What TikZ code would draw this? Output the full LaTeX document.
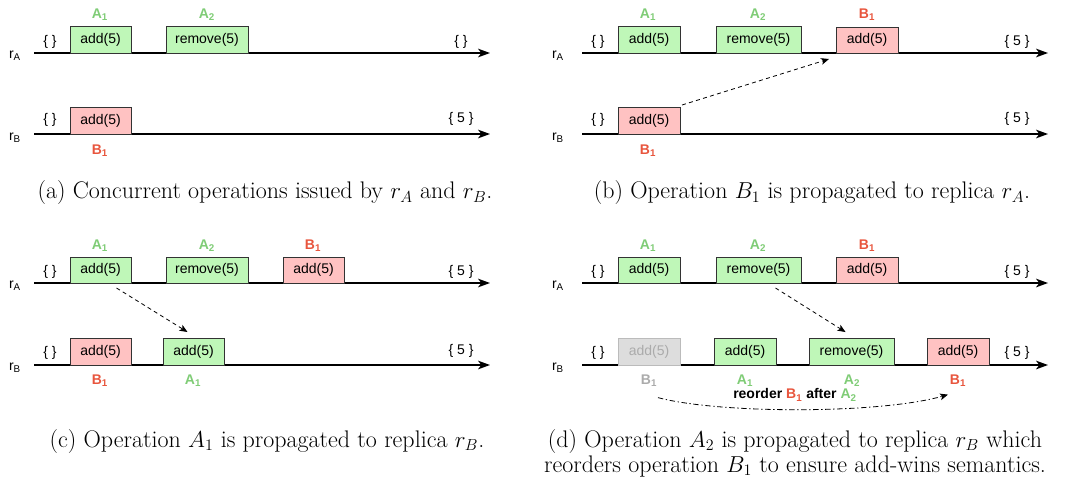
\documentclass[tikz,border=0pt]{standalone}
\usepackage{fontspec}
\newfontfamily\hv{Liberation Sans}
\usetikzlibrary{arrows.meta}
\definecolor{opgreen}{HTML}{BFF7B8}
\definecolor{opred}{HTML}{FFC2C2}
\definecolor{lblgreen}{HTML}{7FCC76}
\definecolor{lblred}{HTML}{E8553D}
\definecolor{opgray}{HTML}{DDDDDD}
\definecolor{graytext}{HTML}{ABABAB}
\definecolor{grayline}{HTML}{BBBBBB}
\newcommand\opbox[7]{\node[#2, minimum width={(#4-#3)*0.75pt}, minimum height={(#6-#5)*0.75pt}] (#1) at ({(#3+#4)/2},{(#5+#6)/2}) {#7};}
\tikzset{
  hvf/.style={font=\hv\fontsize{10.5}{12}\selectfont},
  op/.style={hvf, draw=black!80, line width=0.75pt, inner sep=0pt, outer sep=0pt},
  gop/.style={op, fill=opgreen},
  rop/.style={op, fill=opred},
  xop/.style={op, fill=opgray, draw=grayline, text=graytext},
  tl/.style={line width=1pt, -{Stealth[length=9pt,width=6.5pt,inset=2.5pt]}},
  prop/.style={line width=0.6pt, dash pattern=on 3pt off 2.5pt, -{Stealth[length=6pt,width=5pt,inset=1.5pt]}},
  reord/.style={line width=0.6pt, dash pattern=on 4pt off 2pt on 1pt off 2pt, -{Stealth[length=6pt,width=5pt,inset=1.5pt]}},
  stt/.style={hvf},
  rep/.style={hvf},
  glab/.style={font=\hv\bfseries\fontsize{10.5}{12}\selectfont, text=lblgreen},
  rlab/.style={font=\hv\bfseries\fontsize{10.5}{12}\selectfont, text=lblred},
  xlab/.style={font=\hv\bfseries\fontsize{10.5}{12}\selectfont, text=graytext},
  capt/.style={font=\fontsize{18}{18.75}\selectfont, align=center, inner sep=0pt},
}
\begin{document}
\begin{tikzpicture}[x=0.75pt, y=-0.75pt]
\useasboundingbox (0,0) rectangle (1069,487);
% ---------------- panel (a)
\node[rep] (a-rA) at (15,56) {r\textsubscript{A}};
\node[rep] (a-rB) at (15,138) {r\textsubscript{B}};
\coordinate (a-As) at (34,53); \coordinate (a-Ae) at (490,53);
\coordinate (a-Bs) at (34,134); \coordinate (a-Be) at (490,134);
\draw[tl] (a-As) -- (a-Ae);
\draw[tl] (a-Bs) -- (a-Be);
\opbox{a-A1}{gop}{70}{131}{26}{53}{add(5)}
\opbox{a-A2}{gop}{166}{248}{26}{53}{remove(5)}
\opbox{a-B1}{rop}{70}{131}{107}{134}{add(5)}
\node[glab] (a-lA1) at (100,15) {A\textsubscript{1}};
\node[glab] (a-lA2) at (207,15) {A\textsubscript{2}};
\node[rlab] (a-lB1) at (100,151) {B\textsubscript{1}};
\node[stt] (a-s1) at (50,42) {\{ \}};
\node[stt] (a-s2) at (461,42) {\{ \}};
\node[stt] (a-s3) at (50,120) {\{ \}};
\node[stt] (a-s4) at (461,119) {\{ 5 \}};
\node[capt] (a-cap) at (265,193) {(a) Concurrent operations issued by $r_A$ and $r_B$.};
% ---------------- panel (b)
\node[rep] (b-rA) at (558,56) {r\textsubscript{A}};
\node[rep] (b-rB) at (558,138) {r\textsubscript{B}};
\coordinate (b-As) at (582,53); \coordinate (b-Ae) at (1048,53);
\coordinate (b-Bs) at (582,134); \coordinate (b-Be) at (1048,134);
\draw[tl] (b-As) -- (b-Ae);
\draw[tl] (b-Bs) -- (b-Be);
\opbox{b-A1}{gop}{618}{680}{26}{53}{add(5)}
\opbox{b-A2}{gop}{716}{801}{26}{53}{remove(5)}
\opbox{b-rB1}{rop}{836}{898}{27}{53}{add(5)}
\opbox{b-B1}{rop}{618}{680}{107}{134}{add(5)}
\node[glab] (b-lA1) at (648,15) {A\textsubscript{1}};
\node[glab] (b-lA2) at (758,15) {A\textsubscript{2}};
\node[rlab] (b-lrB1) at (867,15) {B\textsubscript{1}};
\node[rlab] (b-lB1) at (648,151) {B\textsubscript{1}};
\node[stt] (b-s1) at (598,42) {\{ \}};
\node[stt] (b-s2) at (1017,42) {\{ 5 \}};
\node[stt] (b-s3) at (598,120) {\{ \}};
\node[stt] (b-s4) at (1017,119) {\{ 5 \}};
\draw[prop] ([shift={(2,-2)}]b-B1.north east) -- ([shift={(-7,6)}]b-rB1.south west);
\node[capt] (b-cap) at (812,193) {(b) Operation $B_1$ is propagated to replica $r_A$.};
% ---------------- panel (c)
\node[rep] (c-rA) at (15,286) {r\textsubscript{A}};
\node[rep] (c-rB) at (15,368) {r\textsubscript{B}};
\coordinate (c-As) at (34,283); \coordinate (c-Ae) at (490,283);
\coordinate (c-Bs) at (34,365); \coordinate (c-Be) at (490,365);
\draw[tl] (c-As) -- (c-Ae);
\draw[tl] (c-Bs) -- (c-Be);
\opbox{c-A1}{gop}{70}{131}{257}{283}{add(5)}
\opbox{c-A2}{gop}{166}{248}{257}{283}{remove(5)}
\opbox{c-rB1}{rop}{283}{344}{257}{283}{add(5)}
\opbox{c-B1}{rop}{70}{131}{338}{365}{add(5)}
\opbox{c-bA1}{gop}{163}{224}{338}{365}{add(5)}
\node[glab] (c-lA1) at (100,246) {A\textsubscript{1}};
\node[glab] (c-lA2) at (207,246) {A\textsubscript{2}};
\node[rlab] (c-lrB1) at (313,246) {B\textsubscript{1}};
\node[rlab] (c-lB1) at (100,381) {B\textsubscript{1}};
\node[glab] (c-lbA1) at (193,381) {A\textsubscript{1}};
\node[stt] (c-s1) at (50,272) {\{ \}};
\node[stt] (c-s2) at (461,272) {\{ 5 \}};
\node[stt] (c-s3) at (50,353) {\{ \}};
\node[stt] (c-s4) at (461,351) {\{ 5 \}};
\draw[prop] ([shift={(16,5)}]c-A1.south) -- ([shift={(-6,-6)}]c-bA1.north);
\node[capt] (c-cap) at (267,441) {(c) Operation $A_1$ is propagated to replica $r_B$.};
% ---------------- panel (d)
\node[rep] (d-rA) at (558,286) {r\textsubscript{A}};
\node[rep] (d-rB) at (558,368) {r\textsubscript{B}};
\coordinate (d-As) at (582,283); \coordinate (d-Ae) at (1048,283);
\coordinate (d-Bs) at (582,365); \coordinate (d-Be) at (1048,365);
\draw[tl] (d-As) -- (d-Ae);
\draw[tl] (d-Bs) -- (d-Be);
\opbox{d-A1}{gop}{618}{680}{257}{283}{add(5)}
\opbox{d-A2}{gop}{716}{801}{257}{283}{remove(5)}
\opbox{d-rB1}{rop}{836}{898}{257}{283}{add(5)}
\opbox{d-xB1}{xop}{618}{680}{338}{365}{add(5)}
\opbox{d-bA1}{gop}{714}{776}{338}{365}{add(5)}
\opbox{d-bA2}{gop}{809}{894}{338}{365}{remove(5)}
\opbox{d-bB1}{rop}{927}{989}{338}{365}{add(5)}
\node[glab] (d-lA1) at (648,246) {A\textsubscript{1}};
\node[glab] (d-lA2) at (758,246) {A\textsubscript{2}};
\node[rlab] (d-lrB1) at (867,246) {B\textsubscript{1}};
\node[xlab] (d-lxB1) at (649,381) {B\textsubscript{1}};
\node[glab] (d-lbA1) at (745,381) {A\textsubscript{1}};
\node[glab] (d-lbA2) at (852,381) {A\textsubscript{2}};
\node[rlab] (d-lbB1) at (958,381) {B\textsubscript{1}};
\node[stt] (d-s1) at (598,272) {\{ \}};
\node[stt] (d-s2) at (1017,272) {\{ 5 \}};
\node[stt] (d-s3) at (598,353) {\{ \}};
\node[stt] (d-s4) at (1017,353) {\{ 5 \}};
\draw[prop] ([shift={(17,5)}]d-A2.south) -- ([shift={(-6,-6)}]d-bA2.north);
\draw[reord] ([shift={(9,6)}]d-lxB1.south) .. controls (720,414) and (880,414) .. ([shift={(-10,3)}]d-lbB1.south);
\node[font=\hv\bfseries\fontsize{10.5}{12}\selectfont] (d-reord) at (795,395) {reorder \textcolor{lblred}{B\textsubscript{1}} after \textcolor{lblgreen}{A\textsubscript{2}}};
\node[capt] (d-cap) at (795,453) {(d) Operation $A_2$ is propagated to replica $r_B$ which\\reorders operation $B_1$ to ensure add-wins semantics.};
\end{tikzpicture}
\end{document}
